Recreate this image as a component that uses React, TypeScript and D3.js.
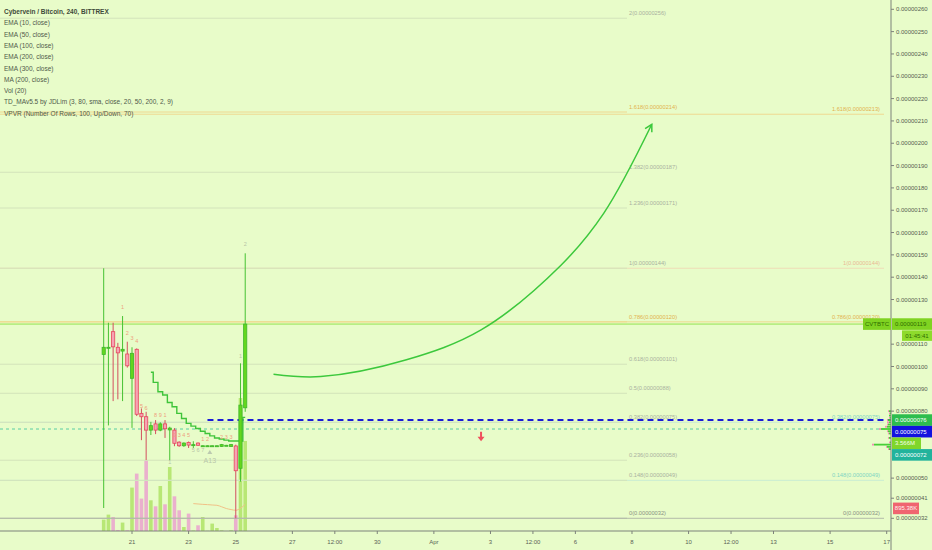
import { useEffect } from "react";
import * as d3 from "d3";

const WIDTH = 932;
const HEIGHT = 550;
const PLOT_RIGHT = 891;
const AXIS_Y = 531;
const BG = "#e8fcc9";
const FONT = '"Liberation Sans", Arial, sans-serif';

// 4h bars, bar 0 = 21 Mar 00:00 (two bars are missing on the 24th). prices in satoshi, volume in K
const bars = [-6, -5, -4, -3, -2, -1, 0, 1, 2, 3, 4, 5, 6, 7, 8, 9, 10, 11, 12, 13, 14, 15, 16, 17, 18, 19, 20, 21, 22, 23, 24];
const opens = [105.4, 108.2, 115.6, 108.6, 106.9, 105.6, 94.7, 107.7, 79.0, 77.5, 71.5, 74.3, 71.5, 74.3, 71.6, 71.5, 66.1, 64.5, 66.0, 64.7, 65.7, 64.3, 64.4, 64.3, 64.4, 64.2, 64.6, 64.2, 64.4, 54.4, 81.5];
const highs = [144, 119.6, 119.6, 110.6, 122.6, 111.1, 108.6, 108.1, 81.2, 79.7, 75.2, 76.0, 75.0, 76.0, 73.0, 72.4, 66.5, 66.0, 66.4, 66.5, 66.0, 64.6, 64.6, 64.6, 64.6, 65.3, 64.9, 65.3, 65.0, 101.4, 150.7];
const lows = [36.6, 73.6, 84.5, 85.3, 84.5, 99.5, 72.5, 77.8, 67.0, 58.1, 69.3, 69.7, 71.0, 68.0, 58.0, 64.3, 64.0, 64.0, 63.5, 63.5, 64.5, 64.2, 64.3, 64.2, 64.3, 64.0, 64.4, 64.0, 32.0, 48.4, 79.7];
const closes = [108.6, 108.6, 108.8, 106.1, 107.7, 100.3, 105.9, 78.6, 77.5, 71.5, 73.5, 71.5, 74.3, 72.1, 72.4, 65.6, 64.5, 65.7, 64.8, 65.0, 64.7, 64.5, 64.5, 64.5, 64.5, 65.0, 64.7, 65.0, 53.3, 82.7, 119.0];
const volumes = [451, 649, 554, 40, 333, 28, 1719, 2273, 1283, 2800, 1216, 978, 1782, 1057, 2534, 1374, 820, 158, 689, 20, 226, 554, 10, 293, 119, 28, 0, 28, 622, 5267, 3566];

// TD_MA step line
const stepBars = [4, 5, 6, 7, 8, 9, 10, 11, 12, 13, 14, 15, 16, 17, 18, 19, 20, 21, 22, 23, 24];
const stepValues = [97.4, 92.9, 88.7, 87.2, 83.9, 82.0, 79.0, 76.7, 74.5, 73.3, 72.2, 71.0, 70.0, 68.9, 68.0, 67.5, 67.0, 66.6, 66.6, 66.6, 77.2];

// Vol (20) moving average
const maBars = [13, 14, 15, 16, 17, 18, 19, 20, 21, 22, 23, 24];
const maValues = [1085, 1070, 1055, 1045, 1030, 1018, 960, 890, 850, 820, 900, 1057];

// drawn arrow (bar, price)
const arrowBars = [30, 40, 58, 74, 91, 100, 110.2];
const arrowPrices = [96.5, 95.5, 102.9, 116.4, 145.5, 168.6, 208.5];
const downArrow = { bar: 74, price: 68.5 };

// fib retracements
const leftFibRatios = ["0", "0.148", "0.236", "0.382", "0.5", "0.618", "0.786", "1", "1.236", "1.382", "1.618", "2"];
const leftFibPrices = [32, 49, 58, 75, 88, 101, 120, 144, 171, 187, 214, 256];
const rightFibRatios = ["0", "0.148", "0.382", "0.786", "1", "1.618"];
const rightFibPrices = [32, 49, 75, 120, 144, 213];

// axes
const priceTicks = [260, 250, 240, 230, 220, 210, 200, 190, 180, 170, 160, 150, 140, 130, 120, 110, 100, 90, 80, 70, 60, 50, 41, 32];
const timeTickBars = [0, 12, 22, 34, 43, 52, 64, 76, 85, 94, 106, 118, 127, 136, 148, 160];
const timeTickLabels = ["21", "23", "25", "27", "12:00", "30", "Apr", "3", "12:00", "6", "8", "10", "12:00", "13", "15", "17"];

const legendLines = [
  "EMA (10, close)",
  "EMA (50, close)",
  "EMA (100, close)",
  "EMA (200, close)",
  "EMA (300, close)",
  "MA (200, close)",
  "Vol (20)",
  "TD_MAv5.5 by JDLim (3, 80, sma, close, 20, 50, 200, 2, 9)",
  "VPVR (Number Of Rows, 100, Up/Down, 70)",
];

// TD counts
const tdBars = [-2, -1, 0, 1, 2, 3, 5, 6, 7, 9, 10, 11, 12, 15, 16, 19, 20, 21, 23, 24, 8, 13, 14, 15];
const tdPrices = [125.6, 114.1, 111.8, 110.6, 81.5, 80.5, 77.4, 77.4, 77.4, 68.6, 68.6, 68.6, 68.6, 66.5, 66.5, 67.6, 67.6, 67.6, 103.6, 153.8, 56.5, 61.8, 61.8, 61.8];
const tdTexts = ["1", "2", "3", "4", "5", "6", "8", "9", "1", "2", "3", "4", "5", "1", "2", "2", "3", "3", "1", "2", "1", "5", "6", "7"];
const tdUp = [true, true, true, true, true, true, true, true, true, true, true, true, true, true, true, true, true, true, false, false, false, false, false, false];
const setupMark = { bar: 16.5, price: 60.8, text: "A13" };

// volume profile rows
const vpPrices = [80, 79, 78, 77, 76, 75, 74, 73, 72, 71, 70, 68, 66, 65, 64, 63];
const vpUp = [2, 1, 2, 1, 3, 2, 3, 4, 10, 3, 2, 2, 1, 17, 4, 2];
const vpDown = [1, 1, 0, 1, 1, 2, 1, 2, 2, 1, 1, 1, 1, 2, 1, 1];

const currentPrice = 119;
const bluePrice = 76;
const tealPrice = 72;
const blueStartBar = 16;
const emaLast = 76;
const alertPrice = 75;
const volMaLast = 895.38;

const fmt = (p: number) => (p / 1e8).toFixed(8);

type Box = { text: string; y: number; fill: string; color: string; w: number };

// push overlapping axis labels down, in the order the platform stacks them
function stackBoxes(boxes: Box[], h: number) {
  const out = boxes.map((b) => ({ ...b }));
  for (let i = 1; i < out.length; i++) {
    const prev = out[i - 1];
    if (out[i].y < prev.y + h) out[i].y = prev.y + h;
  }
  return out;
}

export default function App() {
  useEffect(() => {
    document.body.style.margin = "0";
  }, []);

  const x = d3.scaleLinear().domain([0, 160]).range([132, 886.7]);
  const y = d3.scaleLinear().domain([32, 260]).range([518.3, 9.3]);
  const v = d3.scaleLinear().domain([0, 5267]).range([AXIS_Y, 398]);
  const vp = d3.scaleLinear().domain([0, 1]).range([0, 1]);

  const bodyW = 3.2;
  const volW = 3.6;

  const stepLine = d3
    .line<number>()
    .x((i) => x(stepBars[i]))
    .y((i) => y(stepValues[i]))
    .curve(d3.curveStep)(stepBars.map((_, i) => i));

  const maLine = d3
    .line<number>()
    .x((i) => x(maBars[i]))
    .y((i) => v(maValues[i]))
    .curve(d3.curveMonotoneX)(maBars.map((_, i) => i));

  const arrowPts = arrowBars.map((b, i) => [x(b), y(arrowPrices[i])] as [number, number]);
  const arrowPath = d3.line().curve(d3.curveCatmullRom)(arrowPts);
  const tip = arrowPts[arrowPts.length - 1];
  const before = arrowPts[arrowPts.length - 2];
  const ang = Math.atan2(tip[1] - before[1], tip[0] - before[0]);
  const headLen = 8;
  const arm1 = [tip[0] - headLen * Math.cos(ang - 0.5), tip[1] - headLen * Math.sin(ang - 0.5)];
  const arm2 = [tip[0] - headLen * Math.cos(ang + 0.5), tip[1] - headLen * Math.sin(ang + 0.5)];

  const fibLeftEnd = 627;
  const fibRightEnd = 884;
  const leftFibColor = (r: string) => (r === "0.786" || r === "1.618" ? "#e2b24e" : r === "0" ? "#8a9283" : "#a9b1a0");
  const leftFibLine = (r: string) => (r === "0.786" || r === "1.618" ? "#efd990" : r === "0" ? "#b3bba9" : "#d3e3bb");
  const rightFibColor = (r: string) =>
    r === "0.786" || r === "1.618" ? "#e2b24e" : r === "1" ? "#e9b994" : r === "0" ? "#8a9283" : "#80d4c2";
  const rightFibLine = (r: string) =>
    r === "0.786" || r === "1.618" ? "#efd990" : r === "1" ? "#eedcb6" : r === "0" ? "#b3bba9" : "#c9ecd3";

  const boxH = 11.6;
  const stacked = stackBoxes(
    [
      { text: fmt(emaLast), y: y(emaLast), fill: "#2dbd4e", color: "#ffffff", w: 41 },
      { text: fmt(alertPrice), y: y(alertPrice), fill: "#1212df", color: "#ffffff", w: 41 },
      { text: "3.566M", y: v(volumes[volumes.length - 1]), fill: "#80d62a", color: "#f4ffe8", w: 29 },
      { text: fmt(tealPrice), y: y(tealPrice), fill: "#22b39c", color: "#ffffff", w: 41 },
    ],
    boxH
  );

  // axis ticks hidden behind the price boxes
  const boxYs = [y(currentPrice), ...stacked.map((b) => b.y)];
  const visibleTicks = priceTicks.filter((p) => boxYs.every((by) => Math.abs(y(p) - by) > 7));

  const markX = x(setupMark.bar);
  const markY = y(setupMark.price);

  return (
    <svg
      width={WIDTH}
      height={HEIGHT}
      style={{ position: "absolute", left: 0, top: 0, fontFamily: FONT }}
    >
      <rect width={WIDTH} height={HEIGHT} fill={BG} />

      {/* volume */}
      <g>
        {bars.map((b, i) => (
          <rect
            key={"v" + b}
            x={x(b) - volW / 2}
            y={v(volumes[i])}
            width={volW}
            height={AXIS_Y - v(volumes[i])}
            fill={closes[i] >= opens[i] ? "#b3e46c" : "#eaa7cd"}
            opacity={0.9}
          />
        ))}
        <path d={maLine ?? ""} fill="none" stroke="#f1c187" strokeWidth={1} />
      </g>

      {/* fib levels */}
      <g>
        {rightFibPrices.map((p, i) => (
          <line
            key={"rf" + i}
            x1={0}
            x2={fibRightEnd}
            y1={y(p)}
            y2={y(p)}
            stroke={rightFibLine(rightFibRatios[i])}
            strokeWidth={1}
          />
        ))}
        {leftFibPrices.map((p, i) => (
          <line
            key={"lf" + i}
            x1={0}
            x2={fibLeftEnd}
            y1={y(p)}
            y2={y(p)}
            stroke={leftFibLine(leftFibRatios[i])}
            strokeWidth={1}
          />
        ))}
        {leftFibPrices.map((p, i) => (
          <text key={"lft" + i} x={fibLeftEnd + 2} y={y(p) - 3} fontSize={5.7} fill={leftFibColor(leftFibRatios[i])}>
            {`${leftFibRatios[i]}(${fmt(p)})`}
          </text>
        ))}
        {rightFibPrices.map((p, i) => (
          <text
            key={"rft" + i}
            x={fibRightEnd - 4}
            y={y(p) - 3}
            fontSize={5.7}
            textAnchor="end"
            fill={rightFibColor(rightFibRatios[i])}
          >
            {`${rightFibRatios[i]}(${fmt(p)})`}
          </text>
        ))}
      </g>

      {/* horizontal price lines */}
      <line x1={0} x2={PLOT_RIGHT} y1={y(currentPrice)} y2={y(currentPrice)} stroke="#93e24f" strokeWidth={1} />
      <line
        x1={0}
        x2={PLOT_RIGHT}
        y1={y(tealPrice)}
        y2={y(tealPrice)}
        stroke="#35c29a"
        strokeWidth={0.8}
        strokeDasharray="3,3"
      />
      <line
        x1={x(blueStartBar)}
        x2={PLOT_RIGHT}
        y1={y(bluePrice)}
        y2={y(bluePrice)}
        stroke="#1a1ad8"
        strokeWidth={2}
        strokeDasharray="6,4"
      />

      {/* TD step line */}
      <path d={stepLine ?? ""} fill="none" stroke="#3fc43a" strokeWidth={1.4} />

      {/* candles */}
      <g>
        {bars.map((b, i) => {
          const up = closes[i] >= opens[i];
          const top = y(Math.max(opens[i], closes[i]));
          const bot = y(Math.min(opens[i], closes[i]));
          return (
            <g key={"c" + b}>
              <line
                x1={x(b)}
                x2={x(b)}
                y1={y(highs[i])}
                y2={y(lows[i])}
                stroke={up ? "#46c232" : "#d2505f"}
                strokeWidth={1}
              />
              <rect
                x={x(b) - bodyW / 2}
                y={top}
                width={bodyW}
                height={Math.max(bot - top, 1)}
                fill={up ? "#64d61e" : "#f5a4b4"}
                stroke={up ? "#3db82b" : "#e6465c"}
                strokeWidth={0.8}
              />
            </g>
          );
        })}
      </g>

      {/* TD counts */}
      <g fontSize={5.5} textAnchor="middle">
        {tdBars.map((b, i) => (
          <text key={"td" + i} x={x(b)} y={y(tdPrices[i])} fill={tdUp[i] ? "#eea07e" : "#b7c4a6"}>
            {tdTexts[i]}
          </text>
        ))}
        <path d={`M${markX - 2.5},${markY}L${markX},${markY - 4}L${markX + 2.5},${markY}Z`} fill="#bccab0" />
        <text x={markX} y={markY + 9} fill="#b9c7a9" fontSize={7}>
          {setupMark.text}
        </text>
      </g>

      {/* hand-drawn arrows */}
      <path d={arrowPath ?? ""} fill="none" stroke="#3cc83c" strokeWidth={1.5} />
      <path
        d={`M${arm1[0]},${arm1[1]}L${tip[0]},${tip[1]}L${arm2[0]},${arm2[1]}`}
        fill="none"
        stroke="#3cc83c"
        strokeWidth={1.5}
      />
      <path
        transform={`translate(${x(downArrow.bar)},${y(downArrow.price)})`}
        d="M-1,-5 L1,-5 L1,0 L3.5,0 L0,4.5 L-3.5,0 L-1,0 Z"
        fill="#ef4f5c"
      />

      {/* volume profile */}
      <g>
        {vpPrices.map((p, i) => (
          <g key={"vp" + i}>
            <rect
              x={PLOT_RIGHT - vp(vpUp[i] + vpDown[i])}
              y={y(p) - 0.9}
              width={vp(vpDown[i])}
              height={1.8}
              fill="#f08fb4"
            />
            <rect x={PLOT_RIGHT - vp(vpUp[i])} y={y(p) - 0.9} width={vp(vpUp[i])} height={1.8} fill="#48cf38" />
          </g>
        ))}
      </g>

      {/* legend */}
      <g fontSize={6.5}>
        <text x={4} y={13.5} fill="#3f4a3a" fontWeight={600}>
          Cybervein / Bitcoin, 240, BITTREX
        </text>
        {legendLines.map((t, i) => (
          <text key={t} x={4} y={25.3 + i * 11.3} fill="#4f5a4a">
            {t}
          </text>
        ))}
      </g>

      {/* time axis */}
      <line x1={0} x2={PLOT_RIGHT} y1={AXIS_Y} y2={AXIS_Y} stroke="#7d827a" strokeWidth={1} />
      <g fontSize={6} fill="#5a6356" textAnchor="middle">
        {timeTickBars.map((b, i) => (
          <g key={"t" + i}>
            <line x1={x(b)} x2={x(b)} y1={AXIS_Y} y2={AXIS_Y + 3} stroke="#7d827a" />
            <text x={x(b)} y={544}>
              {timeTickLabels[i]}
            </text>
          </g>
        ))}
      </g>

      {/* price axis */}
      <line x1={PLOT_RIGHT} x2={PLOT_RIGHT} y1={0} y2={HEIGHT} stroke="#7d827a" strokeWidth={1} />
      <g fontSize={6} fill="#555e51">
        {visibleTicks.map((p) => (
          <g key={"p" + p}>
            <line x1={PLOT_RIGHT} x2={PLOT_RIGHT + 3} y1={y(p)} y2={y(p)} stroke="#7d827a" />
            <text x={896} y={y(p) + 2.1}>
              {fmt(p)}
            </text>
          </g>
        ))}
      </g>

      {/* axis labels */}
      <g fontSize={6}>
        <rect x={863} y={y(currentPrice) - boxH / 2} width={28} height={boxH} fill="#7fd321" />
        <text x={877} y={y(currentPrice) + 2.1} textAnchor="middle" fill="#2f6d00">
          CVTBTC
        </text>
        <rect x={PLOT_RIGHT + 1} y={y(currentPrice) - boxH / 2} width={41} height={boxH} fill="#7fd321" />
        <text x={895} y={y(currentPrice) + 2.1} fill="#2f6d00">
          {fmt(currentPrice)}
        </text>
        <rect x={902} y={y(currentPrice) + boxH / 2 + 0.5} width={30} height={10.5} fill="#8edb2c" />
        <text x={917} y={y(currentPrice) + boxH / 2 + 8} textAnchor="middle" fill="#2f6d00">
          01:45:41
        </text>
        {stacked.map((b) => (
          <g key={b.text}>
            <rect x={PLOT_RIGHT + 1} y={b.y - boxH / 2} width={b.w} height={boxH} fill={b.fill} />
            <text x={895} y={b.y + 2.1} fill={b.color}>
              {b.text}
            </text>
          </g>
        ))}
        <rect x={893} y={v(volMaLast) - boxH / 2} width={26} height={boxH} fill="#f06470" />
        <text x={906} y={v(volMaLast) + 2.1} textAnchor="middle" fill="#fff0f0">
          895.38K
        </text>
      </g>
    </svg>
  );
}
